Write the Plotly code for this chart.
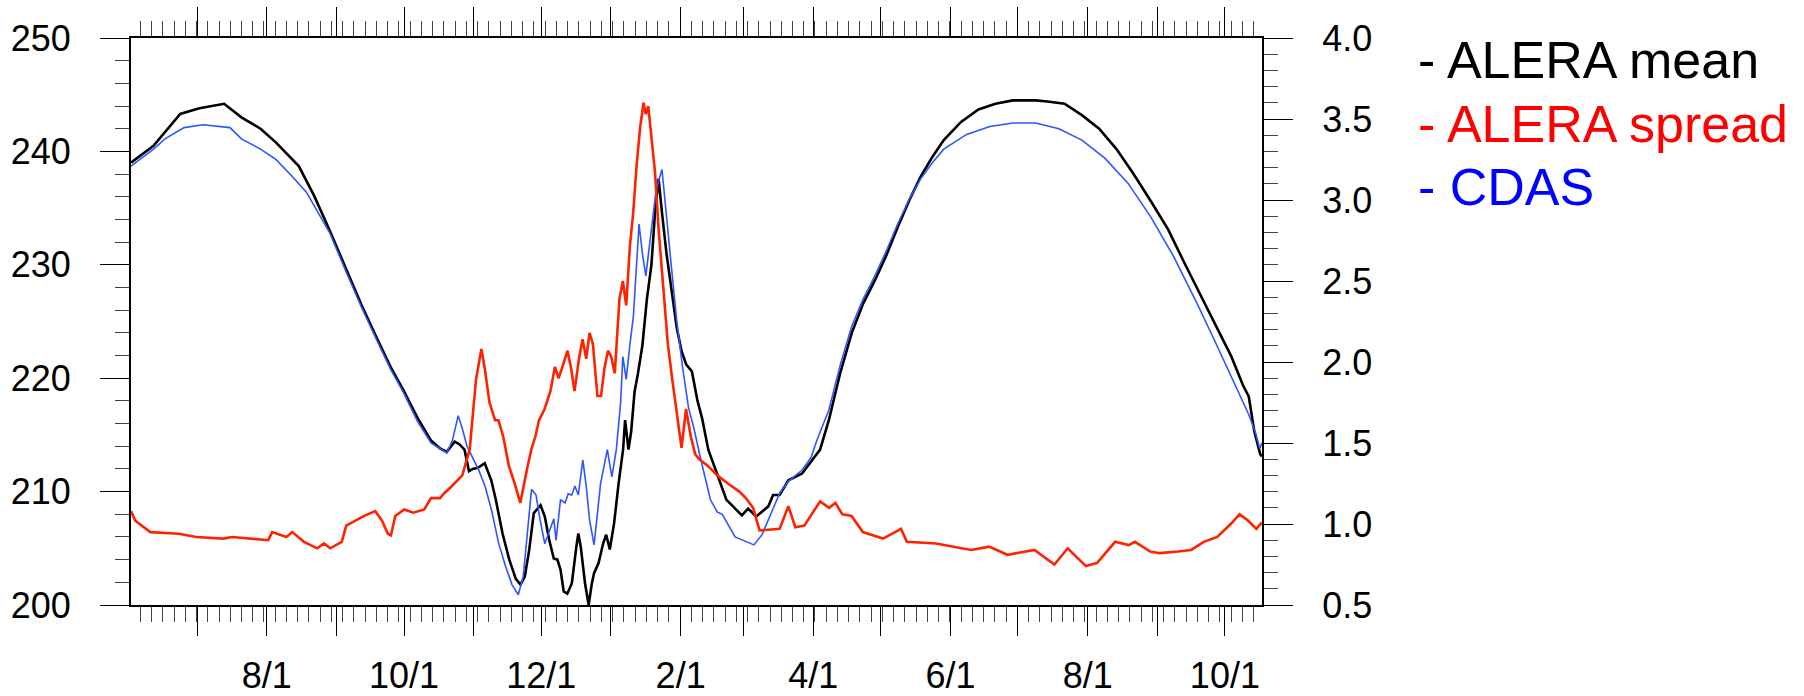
import pandas as pd
import plotly.graph_objects as go

# Day offsets from 2005-06-01 and the values of each series
BASE = pd.Timestamp("2005-06-01")

mean_day = [0.6, 10.6, 22.5, 31, 42, 49.7, 58.2, 65, 75.2, 82, 89, 96, 103, 110, 116,
            121.6, 128, 134, 138, 141, 144.5, 146.5, 148.9, 150.9, 152.5, 154.9, 157.9,
            160.8, 162.8, 165.8, 168.8, 171.7, 173.8, 175.7, 177.7, 179.7, 182.7, 184.6,
            186.6, 188.6, 190.2, 191.6, 193, 194.6, 196.6, 198.6, 199.5, 200.6, 202.5,
            204.1, 205.5, 206.5, 208.5, 210.5, 211.9, 213.5, 215.4, 217.4, 219.4, 220.3,
            221.8, 223, 224.5, 226, 228, 230, 232, 233.6, 235.2, 236.7, 238.7, 240.8,
            243.3, 245.4, 247.5, 250, 252.5, 254.5, 257.3, 265.3, 272.2, 275, 278.6, 284,
            286.1, 289, 292.9, 299, 307, 310.9, 316, 321.1, 326.2, 331.3, 336.4, 341.5,
            346.7, 351.8, 356.9, 362, 369.7, 377.4, 385, 392.7, 402.9, 408, 415.7, 423.4,
            431.1, 438.8, 446.4, 454.1, 461.8, 469.4, 477.1, 484.8, 489.9, 495, 497.6,
            500.1, 502.7, 503.5]
mean_val = [239.0, 240.5, 243.3, 243.8, 244.2, 243.0, 242.0, 240.8, 238.7, 236.1, 233.0,
            229.8, 226.5, 223.5, 221.0, 219.0, 216.5, 214.5, 213.8, 213.5, 214.4, 214.2,
            213.7, 211.8, 212.0, 212.1, 212.5, 211.0, 209.3, 206.3, 204.0, 202.3, 201.8,
            202.5, 204.9, 208.1, 208.8, 207.8, 205.7, 204.1, 204.0, 203.1, 201.2, 201.0,
            201.9, 205.1, 206.3, 205.1, 201.9, 200.0, 201.9, 202.8, 203.7, 205.4, 206.2,
            204.9, 207.2, 210.7, 213.7, 216.3, 213.7, 215.3, 218.8, 220.4, 222.9, 227.0,
            230.0, 234.6, 237.6, 234.6, 231.0, 228.0, 224.4, 222.4, 221.2, 220.6, 218.0,
            216.5, 213.7, 209.3, 207.9, 208.5, 207.8, 208.7, 209.7, 209.7, 211.0, 211.6,
            213.7, 216.3, 220.5, 224.0, 226.6, 228.6, 230.8, 233.3, 235.7, 237.8, 239.5,
            241.0, 242.6, 243.7, 244.2, 244.5, 244.5, 244.4, 244.2, 243.2, 242.0, 240.2,
            238.0, 235.6, 233.1, 230.0, 227.0, 223.9, 221.9, 219.4, 218.4, 215.3, 213.3,
            213.1]

cdas_day = [0.6, 10.6, 15.7, 24.2, 32.7, 44.6, 49.7, 58.2, 65, 71.8, 78.6, 89, 96, 103,
            110, 116, 121.6, 128, 134, 141, 143.5, 146.1, 148, 150, 152, 155, 158, 161,
            164, 167, 170, 172.8, 175, 177, 178.7, 180.7, 182.5, 184.6, 186.5, 188.6,
            189.6, 191.6, 193.6, 195, 196.6, 198, 199.5, 201.5, 203, 204.5, 206.5, 208,
            209.4, 212.4, 214.4, 216.4, 218.3, 219.3, 220.8, 222.4, 224, 226.5, 228,
            229.5, 232.1, 234.1, 236.7, 238.2, 240.8, 243.3, 245.9, 248.5, 251, 253.3,
            258.2, 261.3, 263.5, 269.2, 274.2, 277.6, 281.2, 285.1, 289.1, 292.9, 299,
            303, 305.7, 310.9, 316, 321.1, 326.2, 331.3, 336.4, 341.5, 346.7, 351.8,
            356.9, 362, 372.2, 382.5, 392.7, 402.9, 413.2, 423.4, 433.6, 443.9, 454.1,
            464.3, 474.6, 482, 487.4, 492.5, 497.6, 500.6, 502.5, 503.5]
cdas_val = [238.7, 240.2, 241.1, 242.1, 242.35, 242.1, 241.1, 240.2, 239.3, 237.9, 236.4,
            232.8, 229.5, 226.3, 223.3, 220.8, 218.8, 216.2, 214.3, 213.4, 214.5, 216.7,
            215.5, 214.0, 213.2, 212.0, 210.5, 208.3, 205.5, 203.5, 201.8, 200.9, 202.5,
            206.5, 210.2, 209.7, 207.5, 205.4, 206.5, 207.6, 205.7, 209.3, 209.0, 209.8,
            209.7, 210.5, 209.7, 212.8, 210.5, 207.5, 205.3, 208.0, 210.7, 213.7, 211.3,
            213.7, 217.8, 221.9, 219.9, 222.9, 225.5, 233.6, 231.0, 229.0, 233.1, 236.6,
            238.4, 235.1, 230.0, 225.0, 220.9, 217.4, 215.5, 213.4, 209.3, 208.2, 208.0,
            206.0, 205.6, 205.3, 206.2, 208.1, 209.9, 210.9, 211.9, 213.0, 214.6, 217.2,
            221.2, 224.6, 227.0, 229.0, 231.2, 233.6, 235.8, 237.6, 239.0, 240.2, 241.5,
            242.2, 242.5, 242.5, 242.0, 241.0, 239.4, 237.2, 234.2, 230.7, 226.6, 223.5,
            221.2, 219.0, 216.8, 215.2, 213.8, 214.3]

spread_day = [0.6, 2.5, 9.2, 21.9, 29.6, 41.6, 45.6, 61.6, 63.4, 69.7, 72.3, 77.5, 83.4,
              86.4, 89.2, 94.3, 96.3, 100.3, 104.3, 109.2, 112.2, 114.8, 116.2, 118.1,
              122.1, 126.1, 131, 134, 138, 139.9, 143, 147.9, 149.9, 151.2, 154, 156.4,
              157.9, 160, 162.5, 164, 166.1, 168.6, 171.2, 173.7, 176.7, 178.6, 180.4,
              182, 184.5, 187.1, 189.1, 190.7, 192.2, 194.7, 196.3, 197.8, 199.9, 201.4,
              203, 204.5, 206, 208, 209.6, 211.1, 212.7, 214.2, 215.7, 217.8, 219.3,
              220.8, 222.4, 223.9, 225.4, 227, 228.5, 229.5, 230.6, 232.1, 233.6, 235.2,
              237.2, 239.3, 241.3, 243.3, 245.4, 247.4, 249.5, 251.5, 253.3, 257, 261.3,
              266, 271.1, 274, 277.2, 280.1, 289, 292.9, 296, 300, 307, 311, 313.8,
              316.9, 321, 326, 335, 343, 345.6, 358.5, 374.2, 382.2, 390.3, 402.3, 411.2,
              417.1, 425.2, 430.2, 438.2, 444.2, 447, 453.8, 458, 466, 472, 477.6, 483.6,
              489.6, 493.5, 497.4, 501, 503.5]
spread_val = [1.08, 1.02, 0.95, 0.94, 0.92, 0.91, 0.92, 0.90, 0.95, 0.92, 0.95, 0.89,
              0.85, 0.88, 0.85, 0.89, 0.99, 1.02, 1.05, 1.08, 1.02, 0.94, 0.93, 1.05,
              1.09, 1.07, 1.09, 1.16, 1.16, 1.19, 1.23, 1.30, 1.40, 1.46, 1.89, 2.08,
              1.96, 1.75, 1.64, 1.64, 1.54, 1.36, 1.25, 1.13, 1.34, 1.46, 1.54, 1.64,
              1.71, 1.82, 1.97, 1.90, 1.96, 2.07, 1.96, 1.82, 2.03, 2.14, 2.02, 2.18,
              2.11, 1.79, 1.79, 1.96, 2.07, 2.03, 1.93, 2.39, 2.50, 2.35, 2.71, 2.92,
              3.21, 3.45, 3.60, 3.53, 3.58, 3.38, 3.17, 2.82, 2.46, 2.11, 1.89, 1.68,
              1.47, 1.71, 1.54, 1.43, 1.40, 1.36, 1.30, 1.25, 1.20, 1.16, 1.10, 0.96,
              0.97, 1.11, 0.98, 0.99, 1.14, 1.10, 1.13, 1.06, 1.05, 0.95, 0.91, 0.97,
              0.89, 0.88, 0.84, 0.86, 0.81, 0.84, 0.75, 0.85, 0.74, 0.76, 0.89, 0.87,
              0.89, 0.83, 0.82, 0.83, 0.84, 0.89, 0.92, 1.00, 1.06, 1.02, 0.97, 1.01]

month_ticks = pd.date_range("2005-06-01", "2006-10-01", freq="MS")
month_text = [f"{d.month}/1" if d.month in (2, 4, 6, 8, 10, 12) and d > pd.Timestamp("2005-07-01")
              else "" for d in month_ticks]

left_ticks = [200, 210, 220, 230, 240, 250]
right_ticks = [0.5, 1.0, 1.5, 2.0, 2.5, 3.0, 3.5, 4.0]

legend_items = [("- ALERA mean", "#000000"), ("- ALERA spread", "#ff0000"), ("- CDAS", "#0000ff")]


def to_dates(days):
    return [BASE + pd.Timedelta(days=d) for d in days]


W, H = 1804, 696
L, R, T, B = 130.7, 1261.7, 38.3, 605.0
FONT = "Liberation Sans, Arial, Helvetica, sans-serif"

fig = go.Figure()
fig.add_trace(go.Scatter(x=to_dates(spread_day), y=spread_val, yaxis="y2", mode="lines",
                         line=dict(color="#ff2200", width=2.6), showlegend=False))
fig.add_trace(go.Scatter(x=to_dates(mean_day), y=mean_val, mode="lines",
                         line=dict(color="#000000", width=2.6), showlegend=False))
fig.add_trace(go.Scatter(x=to_dates(cdas_day), y=cdas_val, mode="lines",
                         line=dict(color="#2f55ff", width=1.6), showlegend=False))

x_start = BASE + pd.Timedelta(days=0.6)
x_end = BASE + pd.Timedelta(days=503.5)

fig.update_layout(
    width=W, height=H,
    margin=dict(l=L, r=W - R, t=T, b=H - B, pad=0, autoexpand=False),
    paper_bgcolor="white", plot_bgcolor="white",
    font=dict(family=FONT, size=36, color="black"),
    xaxis=dict(
        type="date", range=[x_start, x_end], showgrid=False, zeroline=False,
        automargin=False,
        showline=True, linecolor="black", linewidth=2, mirror="ticks",
        tickmode="array", tickvals=list(month_ticks), ticktext=month_text,
        ticks="outside", ticklen=29, tickwidth=1.4, tickcolor="black",
        tickfont=dict(size=36), ticklabelstandoff=9,
        minor=dict(ticks="outside", ticklen=15, tickwidth=1, tickcolor="#444",
                   tick0=BASE + pd.Timedelta(days=4.73), dtick=5 * 86400000),
    ),
    yaxis=dict(
        range=[200, 250], showgrid=False, zeroline=False, automargin=False,
        showline=True, linecolor="black", linewidth=2,
        tickmode="array", tickvals=left_ticks,
        ticks="outside", ticklen=29, tickwidth=1.4, tickcolor="black",
        tickfont=dict(size=36), ticklabelstandoff=22,
        minor=dict(ticks="outside", ticklen=14, tickwidth=1, tickcolor="#444", dtick=2),
    ),
    yaxis2=dict(
        range=[0.5, 4.0], overlaying="y", side="right", showgrid=False, zeroline=False,
        automargin=False,
        showline=True, linecolor="black", linewidth=2,
        tickmode="array", tickvals=right_ticks, ticktext=[f"{v:.1f}" for v in right_ticks],
        ticks="outside", ticklen=29, tickwidth=1.4, tickcolor="black",
        tickfont=dict(size=36), ticklabelstandoff=22,
        minor=dict(ticks="outside", ticklen=14, tickwidth=1, tickcolor="#444", dtick=0.1),
    ),
)

# Text legend on the right
baselines = [79, 143, 206.5]
for (label, color), base_y in zip(legend_items, baselines):
    mid_y = base_y - 19
    fig.add_annotation(
        text=label, xref="paper", yref="paper",
        x=(1416 - L) / (R - L), y=(B - mid_y) / (B - T),
        xanchor="left", yanchor="middle", showarrow=False,
        font=dict(family=FONT, size=52, color=color),
    )

fig.write_html("out.html")
